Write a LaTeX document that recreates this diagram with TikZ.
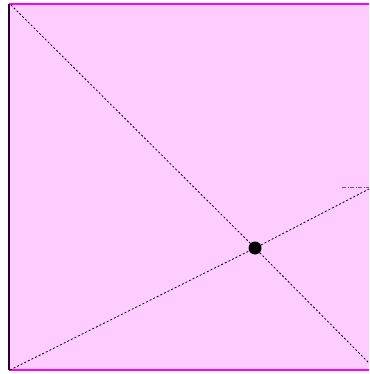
\documentclass[tikz,border=0pt]{standalone}
\usepackage{tikz}
\usetikzlibrary{calc}
\definecolor{pinkbg}{RGB}{255,204,255}
\definecolor{edgemag}{RGB}{255,0,255}
\definecolor{edgedark}{RGB}{40,0,40}
\definecolor{hint}{RGB}{150,60,150}
\tikzset{
  frm/.style={draw=edgemag,line width=1.6pt},
  frml/.style={draw=edgedark,line width=1.1pt},
  ray/.style={draw=black,line width=.8pt,dash pattern=on 2pt off 2pt},
  tick/.style={draw=hint,line width=.9pt,dash pattern=on 4pt off 1.5pt on 1pt off 1.5pt},
  pt/.style={circle,fill=black,minimum size=13pt,inner sep=0pt},
}
\begin{document}
\begin{tikzpicture}[x=1pt,y=-1pt]
\useasboundingbox (0,0) rectangle (369,374);
% the sheet
\fill[white] (0,0) rectangle (369,374);
\fill[pinkbg] (9,4) rectangle (369,370);
\coordinate (tl) at (9,4);
\coordinate (tr) at (369,4);
\coordinate (bl) at (9,370);
\coordinate (br) at (369,370);
\draw[frm] (tl)--(tr) (bl)--(br);
\draw[frml] (tl)--(bl);
% the two rays and where they cross
\coordinate (a0) at (11,5);
\coordinate (a1) at (369,363);
\coordinate (b0) at (10,370);
\coordinate (b1) at (369,189);
\node[pt] (x) at (255,248) {};
\draw[ray] (a0)--(x)--(a1);
\draw[ray] (b0)--(x)--(b1);
% short mark at the right edge
\coordinate (m0) at (342,187);
\coordinate (m1) at (369,187);
\draw[tick] (m0)--(m1);
\end{tikzpicture}
\end{document}
